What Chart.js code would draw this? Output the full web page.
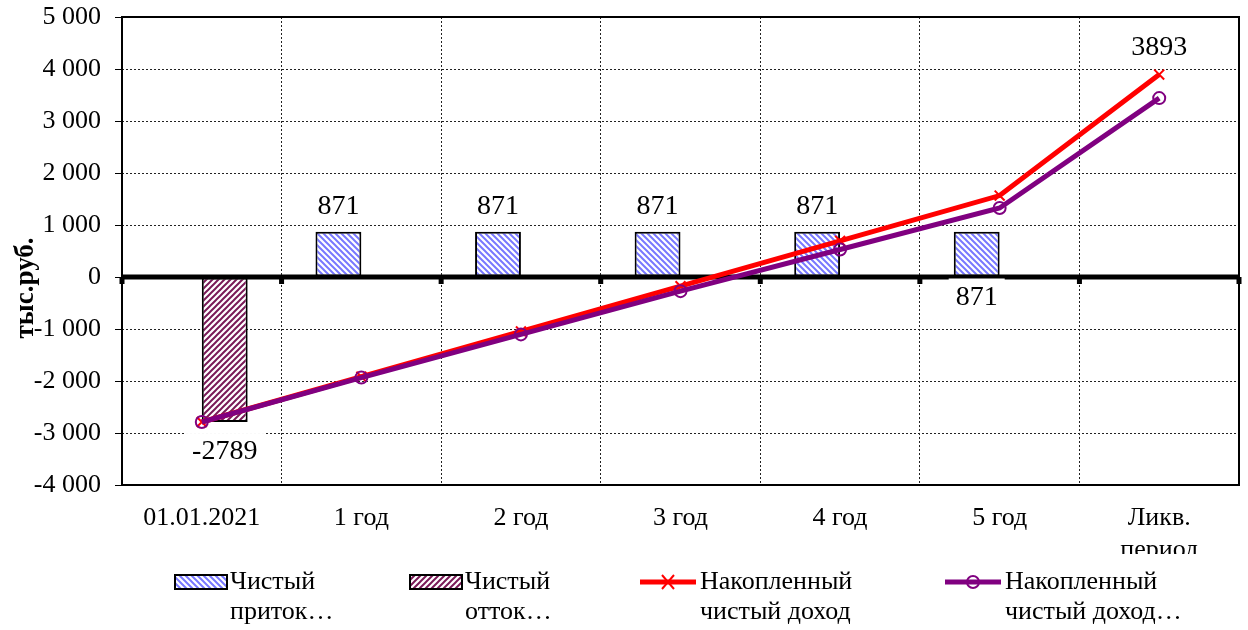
<!DOCTYPE html>
<html>
<head>
<meta charset="utf-8">
<script src="https://cdn.jsdelivr.net/npm/chart.js@4.4.0/dist/chart.umd.min.js"></script>
<style>
  html, body { margin: 0; padding: 0; background: #fff; }
  #wrap { width: 1248px; height: 630px; }
</style>
</head>
<body>
<div id="wrap"><canvas id="myChart" width="1248" height="630"></canvas></div>
<script>
// data
const categories = ['01.01.2021', '1 год', '2 год', '3 год', '4 год', '5 год', ['Ликв.', 'период']];
const inflow = [null, 871, 871, 871, 871, 871, null];
const outflow = [-2789, null, null, null, null, null, null];
const cumulative = [-2789, -1918, -1047, -176, 695, 1566, 3893];
const discounted = [-2789, -1935, -1104, -272, 528, 1328, 3440];
const seriesNames = ['Чистый приток…', 'Чистый отток…', 'Накопленный чистый доход', 'Накопленный чистый доход…'];
const yMin = -4000, yMax = 5000, yStep = 1000;
const yTitle = 'тыс.руб.';

const FONT = "'Liberation Serif', 'Times New Roman', serif";
const ctx = document.getElementById('myChart');

function stripes(color, forward) {
  var c = document.createElement('canvas');
  c.width = 6; c.height = 6;
  var g = c.getContext('2d');
  g.fillStyle = '#fff';
  g.fillRect(0, 0, 6, 6);
  g.strokeStyle = color;
  g.lineWidth = 2;
  g.beginPath();
  if (forward) {
    g.moveTo(0, 6); g.lineTo(6, 0);
    g.moveTo(-1, 1); g.lineTo(1, -1);
    g.moveTo(5, 7); g.lineTo(7, 5);
  } else {
    g.moveTo(0, 0); g.lineTo(6, 6);
    g.moveTo(5, -1); g.lineTo(7, 1);
    g.moveTo(-1, 5); g.lineTo(1, 7);
  }
  g.stroke();
  return g.createPattern(c, 'repeat');
}

const blueFill = stripes('#7878ff', false);
const maroonFill = stripes('#7a1a58', true);

function fmt(v) {
  var s = String(Math.abs(v)).replace(/\B(?=(\d{3})+(?!\d))/g, ' ');
  return (v < 0 ? '-' : '') + s;
}

function labelBox(c, text, x, y, bg) {
  c.font = '28px ' + FONT;
  c.textAlign = 'center';
  c.textBaseline = 'middle';
  if (bg) {
    var w = c.measureText(text).width + 14;
    c.fillStyle = '#fff';
    c.fillRect(x - w / 2, y - 18, w, 36);
  }
  c.fillStyle = '#000';
  c.fillText(text, x, y + 1);
}

// zero line, frame, data labels, y title and legend
const extras = {
  id: 'extras',
  afterDatasetDraw(chart, args) {
    if (args.index !== 0) return;
    var c = chart.ctx, a = chart.chartArea;
    var y0 = chart.scales.y.getPixelForValue(0);
    c.save();
    c.fillStyle = '#000';
    c.fillRect(a.left, y0 - 2.5, a.right - a.left, 5);
    var xs = chart.scales.x;
    for (var i = 0; i <= categories.length; i++) {
      var gx = i === 0 ? a.left : (i === categories.length ? a.right : (xs.getPixelForTick(i - 1) + xs.getPixelForTick(i)) / 2);
      c.fillRect(gx - 2.5, y0, 5, 7);
    }
    c.restore();
  },
  afterDatasetsDraw(chart) {
    var c = chart.ctx, a = chart.chartArea;
    c.save();
    var m0 = chart.getDatasetMeta(0);
    inflow.forEach(function (v, i) {
      if (v == null) return;
      var el = m0.data[i];
      if (i === 5) labelBox(c, fmt(v), el.x, el.base + 20, true);
      else labelBox(c, fmt(v), el.x, el.y - 26, false);
    });
    var m1 = chart.getDatasetMeta(1);
    outflow.forEach(function (v, i) {
      if (v == null) return;
      var el = m1.data[i];
      labelBox(c, String(v), el.x, el.y + 29, true);
    });
    var m2 = chart.getDatasetMeta(2);
    var last = m2.data[cumulative.length - 1];
    labelBox(c, String(cumulative[cumulative.length - 1]), last.x, last.y - 28, false);

    c.strokeStyle = '#000';
    c.lineWidth = 2;
    c.strokeRect(a.left, a.top, a.right - a.left, a.bottom - a.top);
    // short tick marks left of the value axis
    c.lineWidth = 1;
    chart.scales.y.ticks.forEach(function (t) {
      var ty = Math.round(chart.scales.y.getPixelForValue(t.value)) + 0.5;
      c.beginPath(); c.moveTo(a.left - 7, ty); c.lineTo(a.left, ty); c.stroke();
    });
    c.restore();
  },
  afterDraw(chart) {
    var c = chart.ctx;
    c.save();
    // x labels are cut off where the legend begins
    c.fillStyle = '#fff';
    c.fillRect(0, 554, chart.width, chart.height - 554);

    c.translate(26, 288);
    c.rotate(-Math.PI / 2);
    c.font = 'bold 27px ' + FONT;
    c.fillStyle = '#000';
    c.textAlign = 'center';
    c.textBaseline = 'middle';
    c.fillText(yTitle, 0, 0);
    c.setTransform(1, 0, 0, 1, 0, 0);

    var sx = [175, 410, 640, 945];
    c.font = '26px ' + FONT;
    c.textAlign = 'left';
    chart.data.datasets.forEach(function (ds, i) {
      var x = sx[i], y = 582;
      if (ds.type === 'line') {
        c.strokeStyle = ds.borderColor;
        c.lineWidth = ds.borderWidth;
        c.beginPath(); c.moveTo(x, y); c.lineTo(x + 56, y); c.stroke();
        c.lineWidth = 2;
        c.beginPath();
        if (ds.pointStyle === 'circle') {
          c.arc(x + 28, y, 6, 0, Math.PI * 2);
        } else {
          c.moveTo(x + 22, y - 7); c.lineTo(x + 34, y + 7);
          c.moveTo(x + 34, y - 7); c.lineTo(x + 22, y + 7);
        }
        c.stroke();
      } else {
        c.fillStyle = ds.backgroundColor;
        c.fillRect(x, y - 7, 52, 14);
        c.strokeStyle = '#000';
        c.lineWidth = 2;
        c.strokeRect(x, y - 7, 52, 14);
      }
      var sp = ds.label.indexOf(' ');
      var lines = [ds.label.slice(0, sp), ds.label.slice(sp + 1)];
      var tx = x + (ds.type === 'line' ? 60 : 55);
      c.fillStyle = '#000';
      c.textBaseline = 'middle';
      c.fillText(lines[0], tx, y);
      c.fillText(lines[1], tx, y + 30);
    });
    c.restore();
  }
};

new Chart(ctx, {
  type: 'bar',
  data: {
    labels: categories,
    datasets: [{
      type: 'bar',
      label: seriesNames[0],
      data: inflow,
      backgroundColor: blueFill,
      borderColor: '#000',
      borderWidth: 2,
      borderSkipped: false,
      categoryPercentage: 0.575,
      barPercentage: 1,
      order: 2
    }, {
      type: 'bar',
      label: seriesNames[1],
      data: outflow,
      backgroundColor: maroonFill,
      borderColor: '#000',
      borderWidth: 2,
      borderSkipped: false,
      categoryPercentage: 0.575,
      barPercentage: 1,
      order: 2
    }, {
      type: 'line',
      label: seriesNames[2],
      data: cumulative,
      borderColor: '#ff0000',
      backgroundColor: '#ff0000',
      borderWidth: 5,
      pointStyle: 'crossRot',
      pointRadius: 7,
      pointBorderWidth: 2,
      tension: 0,
      order: 1
    }, {
      type: 'line',
      label: seriesNames[3],
      data: discounted,
      borderColor: '#800080',
      backgroundColor: 'rgba(0,0,0,0)',
      borderWidth: 5,
      pointStyle: 'circle',
      pointRadius: 6,
      pointBorderWidth: 2,
      tension: 0,
      order: 0
    }]
  },
  options: {
    responsive: false,
    animation: false,
    layout: { padding: { top: 17, right: 7, left: 0, bottom: 0 } },
    plugins: {
      legend: { display: false },
      tooltip: { enabled: false }
    },
    scales: {
      x: {
        offset: true,
        border: { display: false, dash: [2, 2] },
        grid: { offset: true, color: '#222', lineWidth: 1, drawTicks: false },
        ticks: { color: '#000', padding: 18, maxRotation: 0, autoSkip: false, font: { family: FONT, size: 26 } },
        afterFit: function (s) { s.height = 145; }
      },
      y: {
        min: yMin,
        max: yMax,
        border: { display: false, dash: [2, 2] },
        grid: { color: '#222', lineWidth: 1, tickColor: 'rgba(0,0,0,0)', tickLength: 21 },
        ticks: { stepSize: yStep, color: '#000', padding: 0, font: { family: FONT, size: 26 }, callback: function (v) { return fmt(v); } },
        afterFit: function (s) { s.width = 122; }
      }
    }
  },
  plugins: [extras]
});
</script>
</body>
</html>
